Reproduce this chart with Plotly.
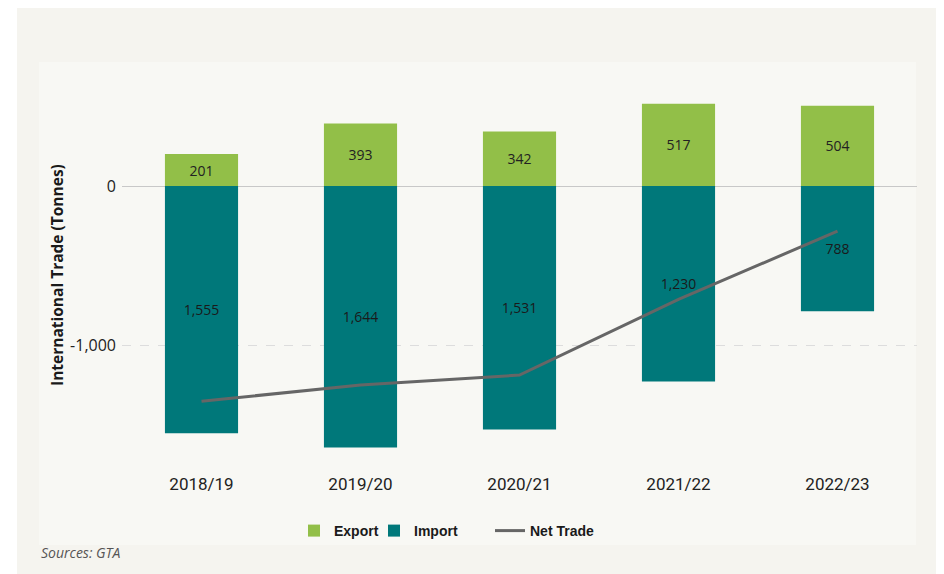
import plotly.graph_objects as go

years = ["2018/19", "2019/20", "2020/21", "2021/22", "2022/23"]
export_vals = [201, 393, 342, 517, 504]
import_vals = [1555, 1644, 1531, 1230, 788]
net_trade = [-1354, -1251, -1189, -713, -284]
ytick_vals = [-1000, 0]
ytick_text = ["-1,000", "0"]

# page offset from default HTML body margin
OFF = 8
W, H = 944 - OFF, 574 - OFF
PLOT_L, PLOT_R, PLOT_T, PLOT_B = 122, 917, 80, 460   # page pixels
L, R, T, B = PLOT_L - OFF, W - (PLOT_R - OFF), PLOT_T - OFF, H - (PLOT_B - OFF)
PW, PH = W - L - R, H - T - B


def px_x(p):
    return (p - OFF - L) / PW


def px_y(p):
    return (H - B - (p - OFF)) / PH


fig = go.Figure()

fig.add_trace(go.Bar(
    x=years, y=export_vals, name="Export",
    marker=dict(color="#92bf48", line=dict(width=0)),
    text=[f"{v:,}" for v in export_vals],
    textposition="inside", insidetextanchor="middle", textangle=0,
    textfont=dict(family="Open Sans, Noto Sans, sans-serif", size=14, color="#222222"),
    legend="legend",
))
fig.add_trace(go.Bar(
    x=years, y=[-v for v in import_vals], name="Import",
    marker=dict(color="#00787a", line=dict(width=0)),
    text=[f"{v:,}" for v in import_vals],
    textposition="inside", insidetextanchor="middle", textangle=0,
    textfont=dict(family="Open Sans, Noto Sans, sans-serif", size=14, color="#1a1a1a"),
    legend="legend2",
))
fig.add_trace(go.Scatter(
    x=years, y=net_trade, name="Net Trade", mode="lines",
    line=dict(color="#666666", width=3),
    legend="legend3",
))

shapes = [
    dict(type="rect", xref="paper", yref="paper", layer="below",
         x0=px_x(17), x1=px_x(944), y0=px_y(574), y1=px_y(6),
         fillcolor="#f5f4ef", line=dict(width=0)),
    dict(type="rect", xref="paper", yref="paper", layer="below",
         x0=px_x(39), x1=px_x(916), y0=px_y(545), y1=px_y(62),
         fillcolor="#f8f8f4", line=dict(width=0)),
]

legend_font = dict(family="Liberation Sans, Arial, sans-serif", size=14, color="#1a1a1a", weight="bold")


def leg(text_start_px):
    return dict(orientation="h", x=px_x(text_start_px - 40), xanchor="left",
                y=px_y(531), yanchor="middle", font=legend_font,
                bgcolor="rgba(0,0,0,0)", itemwidth=30)


fig.update_layout(
    width=W, height=H,
    margin=dict(l=L, r=R, t=T, b=B),
    paper_bgcolor="#ffffff",
    plot_bgcolor="rgba(0,0,0,0)",
    barmode="relative",
    bargap=0.54,
    shapes=shapes,
    xaxis=dict(
        range=[-0.5, 4.5],
        showgrid=False, zeroline=False, showline=False,
        ticks="outside", ticklen=9, tickcolor="rgba(0,0,0,0)",
        tickfont=dict(family="Liberation Sans Narrow, Arial Narrow, Roboto, sans-serif", size=17, color="#222222"),
    ),
    yaxis=dict(
        range=[-(PLOT_B - 186) / 159 * 1000, (186 - PLOT_T) / 159 * 1000],
        tickvals=ytick_vals, ticktext=ytick_text,
        showgrid=True, gridcolor="#dddddd", griddash="dash", gridwidth=1,
        zeroline=True, zerolinecolor="#c8c8c8", zerolinewidth=1.3,
        showline=False, ticks="", ticklabelstandoff=5,
        tickfont=dict(family="Open Sans, Noto Sans, sans-serif", size=16, color="#222222"),
    ),
    legend=leg(334),
    legend2=leg(414),
    legend3=leg(530),
    annotations=[
        dict(text="International Trade (Tonnes)", textangle=-90,
             xref="paper", yref="paper", x=px_x(57), y=px_y(275),
             xanchor="center", yanchor="middle", showarrow=False,
             font=dict(family="Open Sans, Noto Sans, sans-serif", size=15.5, color="#1a1a1a", weight="bold")),
        dict(text="<i>Sources: GTA</i>",
             xref="paper", yref="paper", x=px_x(39), y=px_y(552),
             xanchor="left", yanchor="middle", showarrow=False,
             font=dict(family="Open Sans, Noto Sans, sans-serif", size=14, color="#555555")),
    ],
    showlegend=True,
)

fig.write_html("out.html")
